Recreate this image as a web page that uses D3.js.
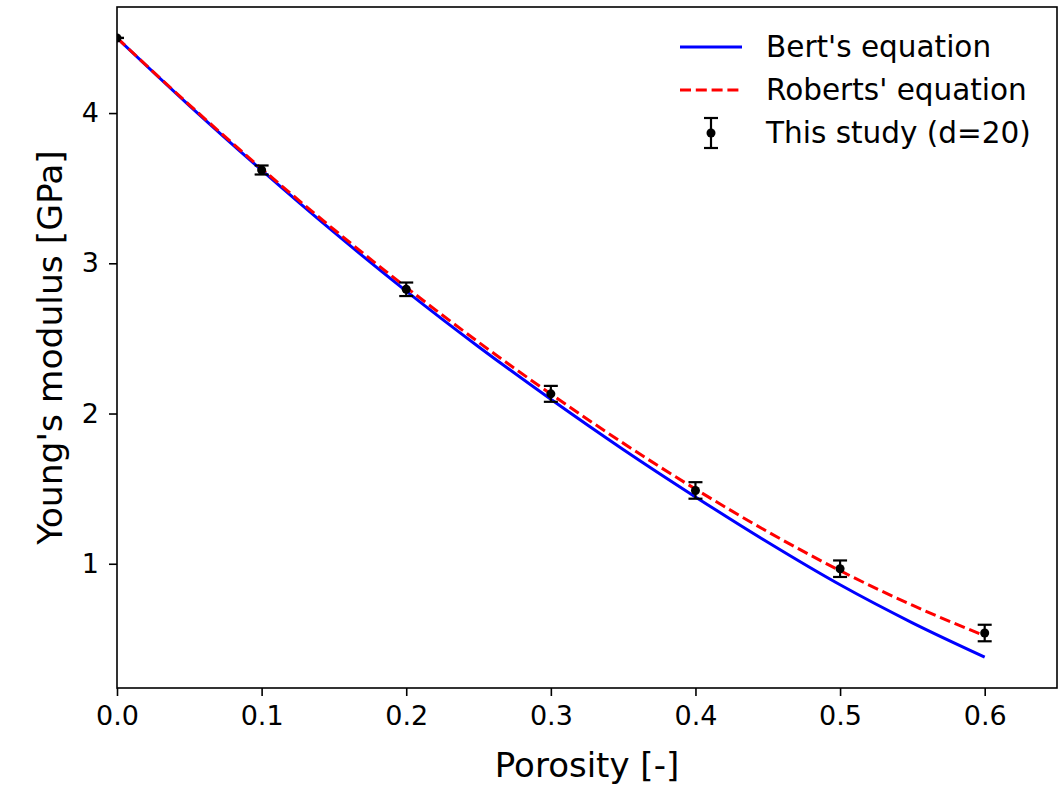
<!DOCTYPE html>
<html lang="en">
<head>
<meta charset="UTF-8">
<title>Young's modulus vs porosity</title>
<script src="https://d3js.org/d3.v7.min.js"></script>
<style>
    html, body { margin: 0; background: #fff; }
    svg { display: block; font-family: 'DejaVu Sans', sans-serif; }
    .tick text { font-size: 27px; fill: #000; }
    .tick line, .domain { stroke: #000; }
</style>
</head>
<body>
<svg width="1064" height="788"></svg>
<script>
    // curve samples
    const porosityGrid = [0, 0.05, 0.1, 0.15, 0.2, 0.25, 0.3, 0.35, 0.4, 0.45, 0.5, 0.55, 0.6];
    const bertValues = [4.5, 4.05, 3.62, 3.207, 2.815, 2.445, 2.095, 1.761, 1.445, 1.143, 0.86, 0.607, 0.379];
    const robertsValues = [4.5, 4.055, 3.63, 3.225, 2.84, 2.475, 2.13, 1.803, 1.497, 1.213, 0.954, 0.724, 0.521];

    // measured points
    const studyPorosity = [0, 0.1, 0.2, 0.3, 0.4, 0.5, 0.6];
    const studyModulus = [4.5, 3.621, 2.827, 2.131, 1.488, 0.967, 0.539];
    const studyError = [0, 0.03, 0.045, 0.053, 0.055, 0.055, 0.055];

    const xTicks = [0, 0.1, 0.2, 0.3, 0.4, 0.5, 0.6];
    const yTicks = [1, 2, 3, 4];

    const svg = d3.select("svg");
    const axLeft = 117, axRight = 1057, axTop = 7, axBottom = 688;

    const x = d3.scaleLinear().domain([0, 0.65]).range([axLeft, axRight]);
    const y = d3.scaleLinear().domain([0.173, 4.706]).range([axBottom, axTop]);

    svg.append("defs").append("clipPath").attr("id", "clip")
        .append("rect").attr("x", axLeft).attr("y", axTop)
        .attr("width", axRight - axLeft).attr("height", axBottom - axTop);

    const plot = svg.append("g");
    const line = d3.line().x(d => x(d[0])).y(d => y(d[1])).curve(d3.curveMonotoneX);

    const body = plot.append("g").attr("clip-path", "url(#clip)");

    body.append("path")
        .datum(porosityGrid.map((p, i) => [p, bertValues[i]]))
        .attr("d", line)
        .attr("fill", "none").attr("stroke", "#0000ff").attr("stroke-width", 3);

    body.append("path")
        .datum(porosityGrid.map((p, i) => [p, robertsValues[i]]))
        .attr("d", line)
        .attr("fill", "none").attr("stroke", "#ff0000").attr("stroke-width", 3)
        .attr("stroke-dasharray", "11,4.8");

    const pts = studyPorosity.map((p, i) => ({ p: p, e: studyModulus[i], err: studyError[i] }));
    const bars = body.append("g").selectAll("g").data(pts).enter().append("g");
    bars.append("line")
        .attr("x1", d => x(d.p)).attr("x2", d => x(d.p))
        .attr("y1", d => y(d.e - d.err)).attr("y2", d => y(d.e + d.err))
        .attr("stroke", "#000").attr("stroke-width", 2.2);
    [-1, 1].forEach(s => {
        bars.append("line")
            .attr("x1", d => x(d.p) - 7).attr("x2", d => x(d.p) + 7)
            .attr("y1", d => y(d.e + s * d.err)).attr("y2", d => y(d.e + s * d.err))
            .attr("stroke", "#000").attr("stroke-width", 2.2);
    });
    bars.append("circle")
        .attr("cx", d => x(d.p)).attr("cy", d => y(d.e)).attr("r", 4.5)
        .attr("fill", "#000");

    // axes
    const xAxis = plot.append("g").attr("transform", `translate(0,${axBottom})`)
        .call(d3.axisBottom(x).tickValues(xTicks).tickFormat(d3.format(".1f")).tickSizeOuter(0).tickSize(8).tickPadding(10));
    const yAxis = plot.append("g").attr("transform", `translate(${axLeft},0)`)
        .call(d3.axisLeft(y).tickValues(yTicks).tickFormat(d3.format("d")).tickSizeOuter(0).tickSize(8).tickPadding(10));
    [xAxis, yAxis].forEach(a => {
        a.select(".domain").remove();
        a.selectAll(".tick line").attr("stroke-width", 1.6);
        a.selectAll(".tick text").attr("font-family", "DejaVu Sans");
    });

    plot.append("rect")
        .attr("x", axLeft).attr("y", axTop)
        .attr("width", axRight - axLeft).attr("height", axBottom - axTop)
        .attr("fill", "none").attr("stroke", "#000").attr("stroke-width", 1.6);

    svg.append("text")
        .attr("x", (axLeft + axRight) / 2).attr("y", 777)
        .attr("text-anchor", "middle").attr("font-size", 34)
        .text("Porosity [-]");

    svg.append("text")
        .attr("transform", `translate(62,${(axTop + axBottom) / 2}) rotate(-90)`)
        .attr("text-anchor", "middle").attr("font-size", 34.5)
        .text("Young's modulus [GPa]");

    // legend
    const legend = svg.append("g");
    const lx = 680, ly = 47, step = 43;
    legend.append("line").attr("x1", lx).attr("x2", lx + 62).attr("y1", ly).attr("y2", ly)
        .attr("stroke", "#0000ff").attr("stroke-width", 3);
    legend.append("line").attr("x1", lx).attr("x2", lx + 62).attr("y1", ly + step).attr("y2", ly + step)
        .attr("stroke", "#ff0000").attr("stroke-width", 3).attr("stroke-dasharray", "11,4.8");
    const mx = lx + 31, my = ly + 2 * step;
    legend.append("line").attr("x1", mx).attr("x2", mx).attr("y1", my - 15).attr("y2", my + 15)
        .attr("stroke", "#000").attr("stroke-width", 2.2);
    [-15, 15].forEach(o => legend.append("line")
        .attr("x1", mx - 7).attr("x2", mx + 7).attr("y1", my + o).attr("y2", my + o)
        .attr("stroke", "#000").attr("stroke-width", 2.2));
    legend.append("circle").attr("cx", mx).attr("cy", my).attr("r", 4.5).attr("fill", "#000");

    ["Bert's equation", "Roberts' equation", "This study (d=20)"].forEach((t, i) => {
        legend.append("text")
            .attr("x", 766).attr("y", ly + i * step)
            .attr("dy", "0.35em").attr("font-size", 29.5)
            .text(t);
    });
</script>
</body>
</html>
